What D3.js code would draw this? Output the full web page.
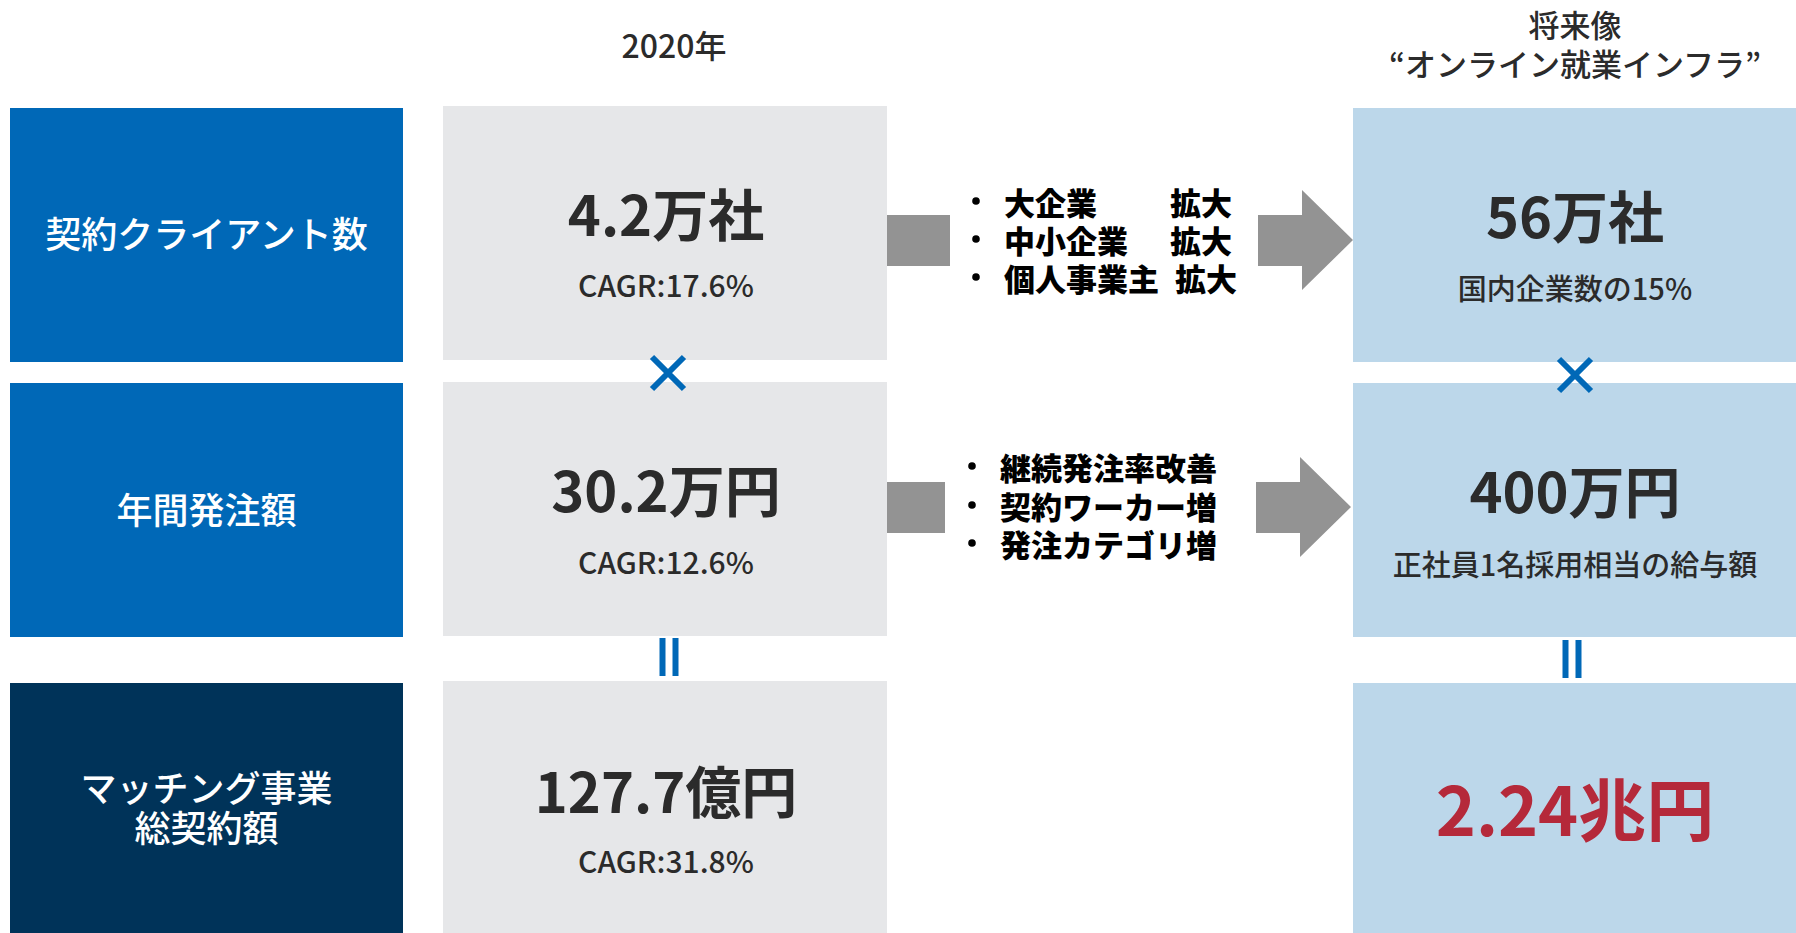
<!DOCTYPE html>
<html><head><meta charset="utf-8">
<script src="https://cdn.jsdelivr.net/npm/d3@7"></script>
<style>
html,body{margin:0;padding:0;background:#fff;}
svg{display:block;font-family:"Noto Sans CJK JP","Noto Sans",sans-serif;}
</style></head>
<body>
<svg id="c" width="1796" height="933"></svg>
<script>
// ---- data ----
const rowLabels = [["契約クライアント数"], ["年間発注額"], ["マッチング事業", "総契約額"]];
const values2020 = ["4.2万社", "30.2万円", "127.7億円"];
const cagr2020 = ["CAGR:17.6%", "CAGR:12.6%", "CAGR:31.8%"];
const futureValues = ["56万社", "400万円", "2.24兆円"];
const futureNotes = ["国内企業数の15%", "正社員1名採用相当の給与額", ""];
const driversClients = [["大企業", "拡大"], ["中小企業", "拡大"], ["個人事業主", "拡大"]];
const driversOrders = ["継続発注率改善", "契約ワーカー増", "発注カテゴリ増"];
const operators = ["×", "="];
const header2020 = ["2020年"];
const headerFuture = ["将来像", "“オンライン就業インフラ”"];

// ---- layout ----
const svg = d3.select("#c");
const cols = ["label", "y2020", "future"];
const colX = d3.scaleOrdinal().domain(cols).range([10, 443, 1353]);
const colW = d3.scaleOrdinal().domain(cols).range([393, 444, 443]);
const rowIdx = [0, 1, 2];
const rowTop = {
  label: d3.scaleOrdinal().domain(rowIdx).range([108, 383, 683]),
  y2020: d3.scaleOrdinal().domain(rowIdx).range([106, 382, 681]),
  future: d3.scaleOrdinal().domain(rowIdx).range([108, 383, 683])
};
const rowH = d3.scaleOrdinal().domain(rowIdx).range([254, 254, 252]);
const labelFill = d3.scaleOrdinal().domain(rowIdx).range(["#0068b7", "#0068b7", "#003359"]);
const colFill = {y2020: "#e6e7e9", future: "#bcd7ea"};
const dark = "#2b2b2b";
const blue = "#0068b7";

// boxes
cols.forEach(c => {
  svg.selectAll(null).data(rowIdx).enter().append("rect")
    .attr("x", colX(c)).attr("y", i => rowTop[c](i))
    .attr("width", colW(c)).attr("height", i => rowH(i))
    .attr("fill", i => c === "label" ? labelFill(i) : colFill[c]);
});

const cx = c => colX(c) + colW(c) / 2;

// headers
svg.append("text").attr("x", 674).attr("y", 44).attr("text-anchor", "middle")
  .attr("dominant-baseline", "central").attr("font-size", 32).attr("font-weight", 500)
  .attr("fill", dark).text(header2020[0]);
const hf = svg.append("text").attr("text-anchor", "middle").attr("font-size", 31)
  .attr("font-weight", 500).attr("fill", dark);
headerFuture.forEach((t, i) => hf.append("tspan").attr("x", 1575).attr("y", 23 + i * 39)
  .attr("dominant-baseline", "central").text(t));

// row labels
const labelCenter = [232, 508, 806];
rowLabels.forEach((lines, i) => {
  const n = lines.length, lh = 40;
  const t = svg.append("text").attr("text-anchor", "middle")
    .attr("font-size", 36).attr("font-weight", 500).attr("fill", "#fff");
  lines.forEach((s, j) => {
    t.append("tspan").attr("x", cx("label"))
      .attr("y", labelCenter[i] + (j - (n - 1) / 2) * lh)
      .attr("dominant-baseline", "central").text(s);
  });
});

// 2020 values
const valY = [211, 487, 788];
const subY = [284, 561, 860];
svg.selectAll(null).data(values2020).enter().append("text")
  .attr("x", 666).attr("y", (d, i) => valY[i]).attr("text-anchor", "middle")
  .attr("dominant-baseline", "central").attr("font-size", 56).attr("font-weight", 700)
  .attr("fill", dark).text(d => d);
svg.selectAll(null).data(cagr2020).enter().append("text")
  .attr("x", 666).attr("y", (d, i) => subY[i]).attr("text-anchor", "middle")
  .attr("dominant-baseline", "central").attr("font-size", 30).attr("font-weight", 500)
  .attr("fill", dark).text(d => d);

// future values
const fValY = [213, 488, 806];
const fSubY = [287, 563, 0];
svg.selectAll(null).data(futureValues).enter().append("text")
  .attr("x", 1575).attr("y", (d, i) => fValY[i]).attr("text-anchor", "middle")
  .attr("dominant-baseline", "central")
  .attr("font-size", (d, i) => i === 2 ? 68 : 56).attr("font-weight", 700)
  .attr("fill", (d, i) => i === 2 ? "#b5293a" : dark).text(d => d);
svg.selectAll(null).data(futureNotes.filter(d => d)).enter().append("text")
  .attr("x", 1575).attr("y", (d, i) => fSubY[i]).attr("text-anchor", "middle")
  .attr("dominant-baseline", "central").attr("font-size", 29).attr("font-weight", 500)
  .attr("fill", dark).text(d => d);

// operators
function drawX(x, y) {
  const s = 16;
  svg.append("path").attr("d", `M${x - s},${y - s}L${x + s},${y + s}M${x + s},${y - s}L${x - s},${y + s}`)
    .attr("stroke", blue).attr("stroke-width", 6).attr("fill", "none");
}
function drawEq(x, y0, y1) {
  [-6.5, 6.5].forEach(dx => svg.append("rect").attr("x", x + dx - 3).attr("y", y0)
    .attr("width", 6).attr("height", y1 - y0).attr("fill", blue));
}
if (operators[0] === "×") { drawX(668, 373); drawX(1575, 375); }
if (operators[1] === "=") { drawEq(669, 638, 676); drawEq(1572, 640, 678); }

// arrows
function arrowSet(cy, blockR, bodyL, headL, tip) {
  svg.append("rect").attr("x", 887).attr("y", cy - 25).attr("width", blockR - 887).attr("height", 51)
    .attr("fill", "#939393");
  svg.append("path").attr("d",
    `M${bodyL},${cy - 25}L${headL},${cy - 25}L${headL},${cy - 50}L${tip},${cy}L${headL},${cy + 50}L${headL},${cy + 26}L${bodyL},${cy + 26}Z`)
    .attr("fill", "#939393");
}
arrowSet(240, 950, 1258, 1302, 1353);
arrowSet(507, 945, 1256, 1300, 1351);

// bullets
const b1Y = [201, 239, 277];
const t1 = svg.append("text").attr("font-size", 31).attr("font-weight", 900).attr("fill", "#000");
driversClients.forEach((d, i) => {
  svg.append("circle").attr("cx", 976).attr("cy", b1Y[i]).attr("r", 3.8).attr("fill", "#000");
  t1.append("tspan").attr("x", 1004).attr("y", b1Y[i]).attr("dominant-baseline", "central").text(d[0]);
  t1.append("tspan").attr("x", i === 2 ? 1175 : 1170).attr("y", b1Y[i]).attr("dominant-baseline", "central").text(d[1]);
});
const b2Y = [466, 505, 543];
const t2 = svg.append("text").attr("font-size", 31).attr("font-weight", 900).attr("fill", "#000");
driversOrders.forEach((d, i) => {
  svg.append("circle").attr("cx", 972).attr("cy", b2Y[i]).attr("r", 3.8).attr("fill", "#000");
  t2.append("tspan").attr("x", 1000).attr("y", b2Y[i]).attr("dominant-baseline", "central").text(d);
});
</script>
</body></html>
